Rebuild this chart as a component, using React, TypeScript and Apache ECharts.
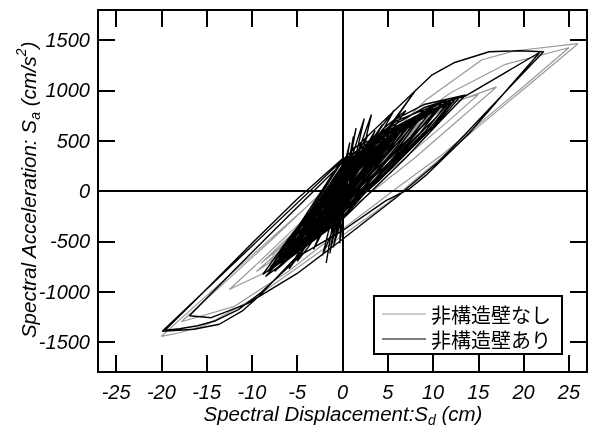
import React, { useEffect, useRef } from "react";
import * as echarts from "echarts";

// ---- axes ----
const X_MIN = -27;
const X_MAX = 27;
const Y_MIN = -1800;
const Y_MAX = 1800;
const xTicks = [-25, -20, -15, -10, -5, 0, 5, 10, 15, 20, 25];
const yTicks = [-1500, -1000, -500, 0, 500, 1000, 1500];
const seriesNames = ["非構造壁なし", "非構造壁あり"];

// ---- 非構造壁なし (grey) : Sd (cm), Sa (cm/s2) ----
const noWallSmall: [number, number][] = [
  [0, 0], [0.8, 80], [-0.7, -70], [1.6, 160], [0.5, 40], [-1.5, -150], [-0.4, -30],
  [2.6, 250], [1.4, 110], [-2.4, -230], [-1.0, -80], [3.6, 340], [2.0, 160],
  [-3.4, -320], [-1.6, -140], [4.8, 440], [3.0, 240], [-4.4, -400], [-2.2, -180],
  [6.0, 540], [4.0, 300], [-5.5, -480], [-3.0, -240], [7.5, 640], [5.2, 400],
  [-6.6, -560], [-3.8, -300], [9.0, 740], [6.5, 480], [-7.8, -640], [-4.6, -360],
  [11.0, 860], [8.0, 560], [-9.0, -720], [-5.5, -420],
];
const noWallLarge: [number, number][] = [
  [2.0, 260], [9.2, 905], [15.4, 1305], [19.1, 1395], [26.0, 1465], [20.5, 1050],
  [15.0, 640], [10.6, 305], [5.0, -120], [-4.0, -700], [-10.0, -1080], [-15.0, -1330],
  [-18.0, -1410], [-20.0, -1445], [-16.0, -1120], [-10.0, -640], [-5.0, -240],
  [0.0, 160], [6.0, 600], [12.0, 980], [18.0, 1260], [25.0, 1425], [20.0, 1040],
  [15.5, 700], [11.0, 360], [6.0, 30], [0.0, -380], [-6.0, -800], [-12.0, -1150],
  [-17.8, -1300], [-14.0, -990], [-8.0, -500], [0.0, 180], [8.0, 740], [17.0, 1035],
];
const noWallDecay: [number, number][] = [
  [13.5, 760], [8.0, 330], [-2.0, -380], [-9.0, -830], [-12.5, -980], [-9.5, -730],
  [-4.0, -260], [4.0, 400], [12.0, 880], [15.0, 960], [12.0, 720], [6.0, 260],
  [-3.0, -400], [-9.5, -800], [-7.0, -600], [-1.0, -60], [6.0, 520], [12.0, 860],
  [9.5, 660], [4.0, 220], [-3.0, -380], [-8.0, -700], [-5.5, -480], [0.0, 40],
  [5.0, 460], [10.0, 760], [7.8, 580], [2.5, 140], [-3.0, -360], [-6.5, -580],
  [-4.5, -380], [0.5, 80], [5.0, 440], [8.5, 660], [6.5, 480], [1.5, 60],
  [-3.0, -340], [-5.5, -500], [-3.5, -300], [0.5, 80], [4.5, 400], [7.0, 540],
  [5.2, 380], [1.0, 30], [-2.5, -280], [-4.5, -420], [-2.8, -240], [0.4, 70],
  [3.5, 320], [5.5, 440], [4.0, 300], [0.5, 0], [-2.0, -220], [-3.5, -320],
  [-2.0, -170], [0.5, 70], [2.6, 240], [4.0, 330], [2.8, 220], [0.2, -20],
  [-1.5, -160], [-2.4, -230], [-1.3, -110], [0.4, 50], [1.8, 160], [2.6, 220],
  [1.6, 130], [0.0, -20], [-1.0, -100], [-1.5, -140], [-0.6, -40], [0.5, 50],
  [1.2, 100], [0.6, 40], [-0.3, -30], [0, 0],
];

// ---- 非構造壁あり (black) ----
const wallSpikes: [number, number][] = [
  [0, 0], [0.5, 200], [-0.4, -170], [1.0, 380], [0.3, 90], [-0.8, -320], [-0.2, -60],
  [1.5, 625], [0.6, 200], [-1.0, -280], [-1.8, -715], [-0.9, -240], [1.2, 300],
  [2.8, 560], [1.6, 260], [-0.7, -465], [-0.1, -120], [2.2, 380], [3.6, 600],
  [2.2, 300], [-1.6, -300], [-3.2, -580], [-1.8, -280], [1.0, 200], [4.4, 660],
  [3.0, 420], [-0.5, -120], [-3.8, -560], [-5.0, -700], [-3.2, -400], [0.0, 120],
  [3.0, 480], [5.7, 805], [4.2, 560], [0.8, 60], [-3.0, -420], [-5.9, -775],
  [-4.0, -480], [-0.6, 40], [4.5, 620], [7.0, 800], [5.4, 600], [0.5, -40],
  [-4.5, -560], [-7.0, -760], [-5.0, -520], [-1.0, 80], [5.0, 620], [8.1, 1005],
  [6.5, 800], [1.0, 20], [-4.0, -500], [-7.5, -800], [-5.2, -560], [0.0, 160],
  [6.0, 720],
];
const wallMedium: [number, number][] = [
  [9.0, 860], [13.6, 955], [11.5, 760], [7.0, 330], [0.0, -280], [-6.0, -680],
  [-8.5, -850], [-6.0, -600], [-1.0, 0], [6.0, 560], [12.0, 900], [10.0, 700],
  [4.5, 200], [-2.0, -360], [-7.0, -720], [-5.0, -500], [0.5, 150], [6.5, 600],
  [11.0, 860], [9.0, 660], [3.0, 160], [-3.5, -440], [-7.8, -760], [-5.5, -520],
  [0.0, 100], [6.0, 580], [3.5, 320], [-2.0, -360],
];
const wallLarge: [number, number][] = [
  [-9.2, -1045], [-11.1, -1195], [-13.6, -1325], [-16.4, -1375], [-19.9, -1395],
  [9.9, 1155], [12.3, 1275], [16.2, 1385], [19.5, 1395], [22.2, 1385], [17.5, 940],
  [13.5, 560], [10.6, 290], [6.0, -60], [0.0, -480], [-5.0, -820], [-10.5, -1120],
  [-14.5, -1260], [-16.9, -1240], [-12.0, -790], [-6.0, -250], [0.0, 280],
  [6.0, 700], [11.0, 880], [13.6, 945], [21.8, 1380], [18.0, 990], [14.0, 575],
  [9.2, 155], [7.3, 15], [4.8, -95], [0.0, -395], [-4.4, -625], [-9.0, -1010],
  [-11.5, -1180], [-14.0, -1290], [-16.0, -1340], [-18.0, -1370], [-19.6, -1385],
  [-15.5, -1020], [-10.0, -520], [-5.0, -80], [0.0, 320],
];
const wallOuterCore: [number, number][] = [
  [-8.0, -780], [-5.5, -420], [0.0, 200], [6.0, 640], [12.5, 920], [10.0, 640],
  [4.0, 100], [-3.0, -460], [-8.8, -830], [-6.0, -480], [0.0, 160], [7.0, 680],
  [13.0, 940], [10.5, 680], [4.5, 150], [-2.5, -420], [-7.6, -760], [-5.2, -420],
  [0.5, 180], [7.0, 660], [12.0, 880], [9.6, 620], [3.5, 80], [-3.0, -440],
  [-8.2, -800], [-5.8, -460], [0.0, 140], [6.5, 620], [11.8, 900], [9.2, 600],
  [3.0, 60], [-3.2, -460], [-7.2, -720], [-5.0, -380], [0.5, 200], [6.0, 600],
  [10.8, 840], [8.6, 580], [3.0, 100], [-2.8, -400], [-6.8, -700], [-4.6, -360],
  [0.0, 180], [5.5, 560], [10.2, 800],
];
const wallSpikes2: [number, number][] = [
  [1.0, 420], [1.2, 540], [0.2, 40], [-1.4, -620], [-0.4, -60], [2.4, 720],
  [1.0, 160], [-1.0, -560], [0.0, -40], [3.2, 760], [2.0, 300], [-2.2, -640],
  [-1.0, -200], [0.8, 480], [0.0, 60], [-0.3, -520], [0.6, 120],
];
const wallCore: [number, number][] = [
  [-6.0, -650], [-4.0, -300], [0.0, 220], [5.0, 580], [10.0, 820], [7.2, 500],
  [0.0, -260], [-4.0, -520], [-6.5, -680], [-4.6, -360], [0.0, 260], [5.0, 600],
  [11.0, 880], [8.0, 560], [0.0, -280], [-4.5, -560], [-7.0, -720], [-5.0, -400],
  [0.0, 300], [4.5, 580], [9.0, 780], [6.5, 470], [0.0, -230], [-4.0, -500],
  [-5.8, -620], [-4.0, -320], [0.0, 240], [4.0, 520], [8.5, 760], [6.0, 440],
  [0.0, -210], [-3.5, -460], [-5.2, -580], [-3.4, -260], [0.0, 200], [4.0, 500],
  [7.5, 700], [5.2, 400], [0.0, -190], [-3.2, -420], [-4.8, -540], [-3.0, -220],
  [0.0, 180], [3.5, 450], [6.8, 640], [4.8, 380], [0.0, -170], [-2.8, -380],
  [-4.2, -480], [-2.6, -190], [0.0, 160], [3.0, 400], [6.0, 580], [4.2, 340],
  [0.0, -150], [-2.4, -340], [-3.6, -430], [-2.2, -160], [0.0, 140], [2.6, 350],
  [5.2, 520], [3.6, 300], [0.0, -130], [-2.0, -300], [-3.2, -380], [-1.8, -130],
  [0.0, 120], [2.2, 300], [4.6, 460], [3.2, 260], [0.0, -110], [-1.6, -250],
  [-2.6, -320], [-1.4, -100], [0.0, 100], [1.8, 250], [3.8, 400], [2.6, 220],
  [0.0, -90], [-1.2, -200], [-2.0, -260], [-1.0, -70], [0.0, 80], [1.4, 200],
  [3.0, 320], [2.0, 170], [0.0, -70], [-1.0, -160], [-1.6, -200], [-0.6, -40],
];
const wallDecay: [number, number][] = [
  [5.0, 620], [9.0, 830], [11.5, 900], [9.5, 700], [4.0, 220], [-2.0, -320],
  [-6.5, -680], [-8.0, -760], [-6.0, -540], [-1.5, -60], [4.0, 460], [9.0, 800],
  [7.5, 620], [2.5, 120], [-3.0, -400], [-6.0, -640], [-4.2, -430], [0.0, 60],
  [5.0, 520], [8.0, 720], [6.4, 540], [1.5, 60], [-2.5, -380], [-5.5, -600],
  [-3.8, -380], [0.5, 100], [4.2, 440], [7.0, 660], [5.5, 480], [1.0, 20],
  [-2.5, -350], [-4.8, -540], [-3.0, -320], [0.5, 120], [4.0, 420], [6.0, 560],
  [4.5, 400], [0.5, -40], [-2.5, -330], [-4.2, -480], [-2.6, -280], [0.2, 80],
  [3.0, 330], [5.2, 500], [3.8, 340], [0.3, -40], [-2.0, -280], [-3.6, -420],
  [-2.2, -230], [0.5, 120], [2.5, 300], [4.4, 440], [3.2, 300], [0.0, -60],
  [-1.8, -250], [-3.0, -360], [-1.8, -180], [0.4, 100], [2.2, 260], [3.6, 370],
  [2.6, 240], [0.0, -40], [-1.4, -200], [-2.4, -290], [-1.4, -130], [0.3, 80],
  [1.8, 210], [2.8, 290], [2.0, 190], [0.0, -30], [-1.2, -160], [-1.8, -220],
  [-1.0, -90], [0.5, 90], [1.6, 180], [1.0, 100], [-0.5, -60], [-1.2, -140],
  [-0.6, -40], [0.4, 60], [0.0, 0],
];

const noWallData = [...noWallSmall, ...noWallLarge, ...noWallDecay];
const wallData = [
  ...wallSpikes, ...wallMedium, ...wallLarge, ...wallOuterCore,
  ...wallSpikes2, ...wallCore, ...wallDecay,
];

const FONT = "'Liberation Sans', Arial, Helvetica, sans-serif";
const CJK = "'Noto Sans CJK JP', 'Noto Sans CJK SC', sans-serif";

export default function App() {
  const ref = useRef<HTMLDivElement>(null);
  useEffect(() => {
    if (!ref.current) return;
    const chart = echarts.init(ref.current, null, { renderer: "svg" });
    const labelStyle = {
      fontFamily: FONT,
      fontStyle: "italic",
      fontSize: 20,
      color: "#000",
      formatter: (v: number) => String(v),
    };
    const line = { color: "#000", width: 2 };
    const mkX = (position: string, labels: boolean) => ({
      type: "value",
      position,
      min: X_MIN,
      max: X_MAX,
      axisLine: { show: true, onZero: false, lineStyle: line },
      axisTick: { show: true, inside: true, length: 17, lineStyle: line, customValues: xTicks },
      axisLabel: { show: labels, customValues: xTicks, margin: 10, ...labelStyle },
      splitLine: { show: false },
    });
    const mkY = (position: string, labels: boolean) => ({
      type: "value",
      position,
      min: Y_MIN,
      max: Y_MAX,
      axisLine: { show: true, onZero: false, lineStyle: line },
      axisTick: { show: true, inside: true, length: 17, lineStyle: line, customValues: yTicks },
      axisLabel: { show: labels, customValues: yTicks, margin: 8, ...labelStyle },
      splitLine: { show: false },
    });
    const nameRich = {
      m: { fontFamily: FONT, fontStyle: "italic", fontSize: 20.5, lineHeight: 28, verticalAlign: "middle", fill: "#000" },
      s: { fontFamily: FONT, fontStyle: "italic", fontSize: 14, lineHeight: 28, verticalAlign: "bottom", fill: "#000" },
      p: { fontFamily: FONT, fontStyle: "italic", fontSize: 14, lineHeight: 28, verticalAlign: "top", fill: "#000" },
    };
    chart.setOption({
      animation: false,
      textStyle: { fontFamily: FONT },
      grid: { left: 98, top: 10, right: 8, bottom: 58, containLabel: false },
      xAxis: [mkX("bottom", true), mkX("top", false)],
      yAxis: [mkY("left", true), mkY("right", false)],
      legend: {
        show: true,
        data: seriesNames,
        orient: "vertical",
        left: 374,
        top: 296,
        padding: [8, 11, 5, 8],
        itemGap: 5,
        itemWidth: 44,
        itemHeight: 1,
        icon: "rect",
        borderColor: "#000",
        borderWidth: 2,
        borderRadius: 0,
        backgroundColor: "#fff",
        textStyle: { fontFamily: CJK, fontSize: 20, color: "#000", lineHeight: 20 },
      },
      graphic: [
        {
          type: "text",
          x: 343,
          y: 413,
          silent: true,
          style: {
            text: "{m|Spectral Displacement:S}{s|d}{m| (cm)}",
            rich: nameRich,
            align: "center",
            verticalAlign: "middle",
          },
        },
        {
          type: "text",
          x: 28,
          y: 190,
          rotation: Math.PI / 2,
          silent: true,
          style: {
            text: "{m|Spectral Acceleration: S}{s|a}{m| (cm/s}{p|2}{m|)}",
            rich: nameRich,
            align: "center",
            verticalAlign: "middle",
          },
        },
      ],
      series: [
        {
          type: "line",
          name: seriesNames[0],
          data: noWallData,
          xAxisIndex: 0,
          yAxisIndex: 0,
          symbol: "none",
          showSymbol: false,
          silent: true,
          z: 2,
          lineStyle: { color: "#999999", width: 1.2 },
          itemStyle: { color: "#999999" },
        },
        {
          type: "line",
          name: seriesNames[1],
          data: wallData,
          xAxisIndex: 0,
          yAxisIndex: 0,
          symbol: "none",
          showSymbol: false,
          silent: true,
          z: 3,
          lineStyle: { color: "#000", width: 1.4 },
          itemStyle: { color: "#000" },
          markLine: {
            silent: true,
            symbol: ["none", "none"],
            label: { show: false },
            lineStyle: { color: "#000", width: 2, type: "solid" },
            data: [{ xAxis: 0 }, { yAxis: 0 }],
          },
        },
      ],
    });
    return () => chart.dispose();
  }, []);
  return (
    <div
      ref={ref}
      style={{ position: "fixed", left: 0, top: 0, width: 595, height: 430 }}
    />
  );
}
